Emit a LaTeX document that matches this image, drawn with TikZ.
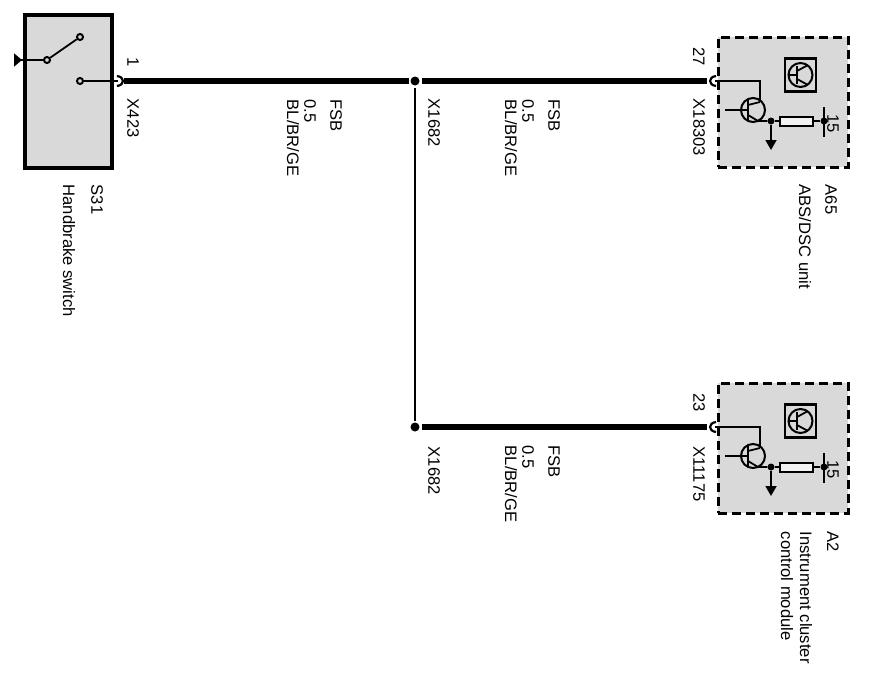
\documentclass[tikz,border=0pt]{standalone}
\usepackage{fontspec}
\setmainfont{Liberation Sans}
\usetikzlibrary{arrows.meta}
\tikzset{basic/.style={draw,line width=2pt,inner sep=0pt}}
\tikzset{lbl/.style={rotate=-90,anchor=west,inner sep=0pt,xshift=1.5pt,font=\fontsize{16.6}{19}\selectfont}}
\tikzset{module/.style={basic,fill=black!15,line width=3pt,minimum width=130pt,minimum height=130pt,dash pattern=on 9pt off 5pt}}
\tikzset{switchbox/.style={basic,fill=black!15,line width=4pt,minimum width=87pt,minimum height=153pt}}
\tikzset{contact/.style={basic,circle,fill=black!15,minimum size=6pt}}
\tikzset{junction/.style={circle,fill=black,inner sep=0pt,minimum size=9pt,outer sep=2pt}}
\tikzset{smalldot/.style={circle,fill=black,inner sep=0pt,minimum size=7pt}}
\tikzset{wire/.style={line width=6pt}}
\tikzset{thin wire/.style={line width=1.8pt}}
\tikzset{pin/.style={line width=2.2pt}}
\begin{document}
\begin{tikzpicture}[x=1pt,y=-1pt]
    \useasboundingbox (0,0) rectangle (879,680);
    % Handbrake switch
    \node[switchbox] (s31) at (68.5,91.5) {};
    \node[contact] (c1) at (47,60) {};
    \node[contact] (c2) at (80,37) {};
    \node[contact] (c3) at (80,81) {};
    \coordinate (gnd) at (14,60);
    \coordinate (p1) at (118,81);
    \coordinate (w1) at (124,81);
    \draw[thin wire,{Triangle[reversed,length=8pt,width=13pt]}-] (gnd) -- (c1);
    \draw[thin wire] (c1) -- (c2);
    \draw[thin wire] (c3) -- (p1);
    \draw[pin] (117,76) .. controls (125,77) and (125,85) .. (117,86);
    % Splices
    \node[junction] (j1) at (415,81) {};
    \node[junction] (j2) at (415,427) {};
    \draw[wire] (w1) -- (j1);
    \draw[line width=2.2pt] (j1) -- (j2);
    % Control units
    \foreach \u/\dy in {a/0,b/346}{%
      \begin{scope}[shift={(0,\dy)}]
        \node[module] (\u box) at (783,102) {};
        \coordinate (\u pin) at (715,81);
        \coordinate (\u end) at (708,81);
        \coordinate (\u bend) at (760,81);
        \coordinate (\u col) at (760,102);
        \coordinate (\u base) at (725,110);
        \coordinate (\u gnd) at (771,150);
        \coordinate (\u top) at (824,107);
        \coordinate (\u bot) at (824,137);
        \node[basic,circle,minimum size=24pt] (\u tr) at (753,110) {};
        \node[smalldot] (\u em) at (771,121) {};
        \node[smalldot] (\u sup) at (824,121) {};
        \node[basic,fill=black!5,minimum width=33pt,minimum height=9pt] (\u res) at (796.5,121) {};
        \node[basic,line width=2.5pt,minimum width=31pt,minimum height=33pt] (\u sym) at (800.5,75) {};
        \node[basic,circle,minimum size=24pt] (\u symc) at (800.5,75) {};
        \draw[thin wire] (\u pin) -- (\u bend) -- (\u col);
        \draw[thin wire] (\u base) -- (748,110);
        \draw[line width=2.2pt] (748,100) -- (748,120);
        \draw[thin wire] (748,105) -- (\u col);
        \draw[thin wire] (748,115) -- (758,121) -- (\u em);
        \draw[thin wire] (\u em) -- (\u res);
        \draw[thin wire] (\u res) -- (\u sup);
        \draw[thin wire] (\u top) -- (\u bot);
        \draw[thin wire,-{Triangle[length=10pt,width=11pt]}] (\u em) -- (\u gnd);
        \draw[thin wire] (789,75) -- (797,75);
        \draw[line width=2.2pt] (797,66) -- (797,84);
        \draw[thin wire] (797,71) -- (808,65);
        \draw[thin wire] (797,79) -- (808,85);
        \draw[pin] (716,76) .. controls (708,77) and (708,85) .. (716,86);
      \end{scope}
    }
    \node[coordinate] (w2) at (707,81) {};
    \node[coordinate] (w3) at (707,427) {};
    \draw[wire] (j1) -- (w2);
    \draw[wire] (j2) -- (w3);
    % Labels
    \foreach \dy/\x in {0/293,0/511,346/511}{%
      \node[lbl] (bl\x\dy) at (\x,98+\dy) {BL/BR/GE};
      \node[lbl] (cs\x\dy) at (\x+17,98+\dy) {0.5};
      \node[lbl] (fsb\x\dy) at (\x+43,98+\dy) {FSB};
    }
    \node[lbl] (n1) at (133,56) {1};
    \node[lbl] (x423) at (133,97) {X423};
    \node[lbl] (x1682a) at (434,97) {X1682};
    \node[lbl] (x1682b) at (434,445) {X1682};
    \node[lbl] (n27) at (699,46) {27};
    \node[lbl] (x18303) at (699,97) {X18303};
    \node[lbl] (n23) at (699,392) {23};
    \node[lbl] (x11175) at (699,445) {X11175};
    \node[lbl] (n15a) at (833,113) {15};
    \node[lbl] (n15b) at (833,459) {15};
    \node[lbl] (s31name) at (97,183) {S31};
    \node[lbl] (s31text) at (69,183) {Handbrake switch};
    \node[lbl] (a65name) at (831,183) {A65};
    \node[lbl] (a65text) at (805,183) {ABS/DSC unit};
    \node[lbl] (a2name) at (833,530) {A2};
    \node[lbl,align=left] (a2text) at (796.5,530) {Instrument cluster\\control module};
\end{tikzpicture}
\end{document}
